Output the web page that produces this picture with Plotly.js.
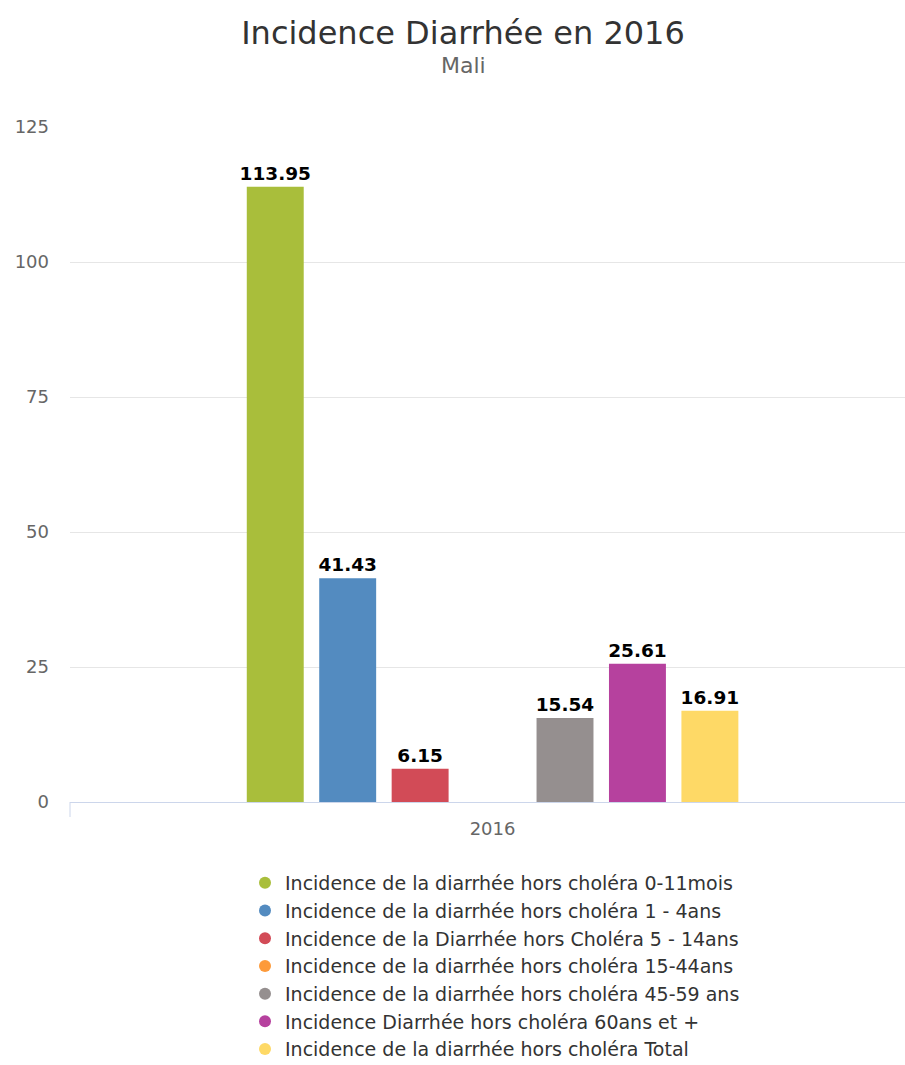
<!DOCTYPE html>
<html>
<head>
<meta charset="utf-8">
<script src="https://cdn.plot.ly/plotly-3.0.1.min.js"></script>
<style>html,body{margin:0;padding:0;background:#fff;}#chart{width:905px;height:1065px;}</style>
</head>
<body>
<div id="chart"></div>
<script>
const categories = ["2016"];
const seriesNames = [
  "Incidence de la diarrhée hors choléra 0-11mois",
  "Incidence de la diarrhée hors choléra 1 - 4ans",
  "Incidence de la Diarrhée hors Choléra 5 - 14ans",
  "Incidence de la diarrhée hors choléra 15-44ans",
  "Incidence de la diarrhée hors choléra 45-59 ans",
  "Incidence Diarrhée hors choléra 60ans et +",
  "Incidence de la diarrhée hors choléra Total"
];
const values0_11mois = [113.95];
const values1_4ans = [41.43];
const values5_14ans = [6.15];
const values15_44ans = [null];
const values45_59ans = [15.54];
const values60plus = [25.61];
const valuesTotal = [16.91];
const seriesValues = [values0_11mois, values1_4ans, values5_14ans, values15_44ans, values45_59ans, values60plus, valuesTotal];
const colors = ["#a9be3b", "#538bc0", "#d24b57", "#fd9a3a", "#958f8f", "#b6419e", "#fed966"];
const yTicks = [0, 25, 50, 75, 100, 125];

const FONT = "DejaVu Sans, sans-serif";
const traces = [];
seriesValues.forEach((vals, i) => {
  traces.push({
    type: "bar",
    name: seriesNames[i],
    x: categories,
    y: vals,
    marker: {color: colors[i]},
    text: vals.map(v => v === null ? "" : v.toFixed(2)),
    textposition: "outside",
    constraintext: "none",
    cliponaxis: false,
    textfont: {family: FONT, size: 18.5, color: "#000000", weight: "bold"},
    showlegend: false,
    hoverinfo: "name+y"
  });
});
seriesValues.forEach((vals, i) => {
  traces.push({
    type: "scatter",
    mode: "markers",
    name: seriesNames[i],
    x: [null],
    y: [null],
    marker: {color: colors[i], size: 18, symbol: "circle"},
    showlegend: true,
    hoverinfo: "skip"
  });
});

const layout = {
  width: 905,
  height: 1065,
  paper_bgcolor: "#ffffff",
  plot_bgcolor: "#ffffff",
  margin: {l: 70, r: 0, t: 127, b: 263},
  barmode: "group",
  bargap: 0.4,
  bargroupgap: 0.214,
  font: {family: FONT, color: "#333333"},
  title: {
    text: "Incidence Diarrhée en 2016",
    font: {family: FONT, size: 32, color: "#333333"},
    x: 463 / 905, xanchor: "center", xref: "container",
    y: 1 - 33/1065, yanchor: "middle", yref: "container"
  },
  annotations: [{
    text: "Mali",
    xref: "paper", yref: "paper",
    x: (463 - 70) / 835, y: (802 - 65) / 675,
    xanchor: "center", yanchor: "middle",
    showarrow: false,
    font: {family: FONT, size: 22, color: "#666666"}
  }],
  xaxis: {
    type: "category",
    range: [-0.5, 0.488],
    showline: true,
    linecolor: "#ccd6eb",
    linewidth: 1,
    showgrid: false,
    zeroline: false,
    ticks: "",
    ticklabelstandoff: 10,
    tickfont: {family: FONT, size: 18, color: "#666666"},
    fixedrange: true
  },
  yaxis: {
    range: [0, 125],
    tickvals: yTicks,
    ticktext: yTicks.map(String),
    showgrid: true,
    gridcolor: "#e6e6e6",
    gridwidth: 1,
    zeroline: false,
    showline: false,
    ticks: "",
    ticklabelstandoff: 20,
    tickfont: {family: FONT, size: 18, color: "#666666"},
    fixedrange: true
  },
  shapes: [{
    type: "line",
    xref: "paper", yref: "paper",
    x0: 0, x1: 0, y0: 0, y1: -15 / 675,
    line: {color: "#ccd6eb", width: 1}
  }],
  legend: {
    orientation: "v",
    xref: "paper", yref: "container",
    x: (495 - 70) / 835, xanchor: "center",
    y: 1 - 864 / 1065, yanchor: "top",
    font: {family: FONT, size: 19, color: "#333333"},
    bgcolor: "rgba(0,0,0,0)",
    itemsizing: "constant",
    tracegroupgap: 0
  },
  showlegend: true
};

Plotly.newPlot("chart", traces, layout, {displayModeBar: false, staticPlot: true});
</script>
</body>
</html>
